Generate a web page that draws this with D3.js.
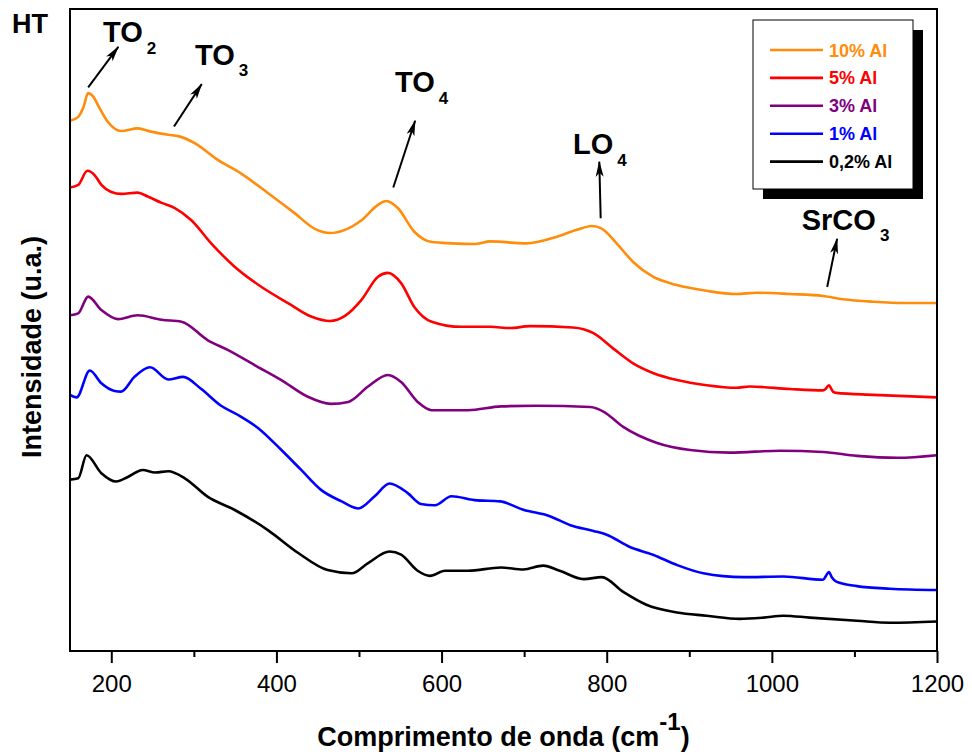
<!DOCTYPE html>
<html>
  <head>
    <meta charset="utf-8">
    <style>
      html, body {
        padding: 0;
        margin: 0;
        overflow: hidden;
        background: #ffffff;
      }
      svg {
        font-family: "Liberation Sans", Arial, sans-serif;
      }
      .spectrum {
        fill: none;
        stroke-width: 2.6;
        stroke-linejoin: round;
      }
      .tick text {
        font-size: 24px;
        fill: #000;
      }
      .tick line {
        stroke: #000;
        stroke-width: 2;
      }
      .note {
        font-weight: bold;
        font-size: 29px;
      }
    </style>
  </head>
  <body>
    <div id="chart"></div>
    <script src="https://cdn.jsdelivr.net/npm/d3@7"></script>
    <script>
      // wavenumber (cm-1) and intensity (a.u., 0-100 across the plot height)
      const wave10 = [150, 160, 166, 172, 178, 184, 196, 212, 232, 248, 269, 281, 301, 329, 357, 390, 422, 446, 465, 483, 503, 523, 533, 547, 567, 588, 612, 640, 659, 703, 739, 764, 782, 794, 812, 832, 856, 885, 921, 957, 982, 1022, 1062, 1086, 1123, 1160, 1200]
      const int10 = [82.6, 83.2, 84.6, 86.9, 86.4, 85.0, 82.4, 81.0, 81.4, 80.9, 80.4, 80.2, 79.1, 76.5, 74.4, 71.3, 68.2, 65.8, 65.1, 65.6, 67.1, 69.5, 70.1, 69.0, 65.3, 63.7, 63.5, 63.4, 63.8, 63.5, 64.5, 65.6, 66.2, 65.8, 63.5, 60.6, 58.3, 57.0, 56.1, 55.6, 55.8, 55.6, 55.3, 54.8, 54.4, 54.2, 54.2]

      const wave5 = [150, 160, 171, 180, 188, 200, 212, 232, 244, 261, 277, 297, 321, 349, 382, 414, 442, 465, 483, 503, 523, 535, 551, 567, 588, 624, 659, 683, 707, 759, 784, 808, 832, 856, 885, 921, 957, 973, 1022, 1062, 1065, 1069, 1074, 1078, 1123, 1200]
      const int5 = [72.2, 72.6, 74.8, 74.1, 72.6, 71.5, 71.2, 71.4, 70.8, 69.8, 69.0, 67.1, 63.5, 59.9, 56.7, 54.2, 52.1, 51.4, 52.2, 54.7, 58.3, 58.9, 57.3, 53.6, 51.3, 50.5, 50.5, 50.3, 50.6, 50.4, 49.5, 47.1, 44.8, 43.3, 42.2, 41.4, 41.0, 41.2, 40.8, 40.6, 40.8, 41.4, 40.4, 40.2, 39.9, 39.5]

      const wave3 = [150, 160, 172, 188, 208, 232, 261, 285, 317, 341, 374, 406, 438, 466, 487, 511, 535, 551, 571, 588, 632, 672, 715, 780, 796, 820, 861, 901, 949, 1010, 1062, 1103, 1152, 1200]
      const int3 = [52.3, 52.6, 55.2, 53.1, 51.7, 52.3, 51.6, 51.3, 48.4, 46.9, 44.5, 42.2, 39.6, 38.5, 38.8, 41.2, 43.0, 41.9, 38.8, 37.5, 37.5, 38.1, 38.2, 38.0, 37.3, 34.9, 32.4, 31.3, 30.9, 31.2, 31.0, 30.4, 30.1, 30.5]

      const wave1 = [150, 158, 174, 188, 204, 212, 228, 247, 269, 287, 309, 333, 353, 378, 406, 430, 454, 479, 499, 519, 537, 559, 575, 592, 612, 640, 671, 699, 731, 756, 784, 800, 828, 856, 885, 917, 965, 1014, 1062, 1066, 1069, 1073, 1078, 1103, 1143, 1200]
      const int1 = [39.9, 39.5, 43.7, 41.7, 40.5, 40.4, 42.7, 44.2, 42.3, 42.7, 40.8, 38.2, 36.8, 34.7, 31.3, 28.2, 25.1, 23.3, 22.2, 24.1, 26.1, 24.6, 22.9, 22.7, 24.1, 23.5, 23.3, 22.0, 21.0, 19.6, 18.7, 18.1, 16.2, 15.0, 13.4, 12.1, 11.5, 11.6, 11.1, 11.8, 12.3, 11.4, 10.8, 10.1, 9.7, 9.5]

      const wave02 = [150, 160, 170, 188, 206, 220, 238, 253, 269, 289, 317, 349, 390, 426, 462, 491, 511, 537, 551, 571, 586, 604, 632, 672, 699, 723, 743, 772, 794, 820, 848, 885, 921, 961, 990, 1014, 1046, 1103, 1143, 1200]
      const int02 = [26.7, 26.9, 30.5, 27.7, 26.4, 27.1, 28.2, 27.8, 28.0, 26.9, 24.0, 22.0, 18.8, 15.3, 12.6, 12.1, 13.7, 15.5, 15.0, 12.5, 11.7, 12.5, 12.5, 13.0, 12.7, 13.3, 12.5, 11.2, 11.5, 9.2, 7.2, 6.0, 5.5, 5.0, 5.2, 5.5, 5.2, 4.7, 4.4, 4.6]

      const seriesNames = ['10% Al', '5% Al', '3% Al', '1% Al', '0,2% Al']
      const seriesColors = ['#ff8c0a', '#ff0000', '#800080', '#0000ff', '#000000']
      const seriesWaves = [wave10, wave5, wave3, wave1, wave02]
      const seriesInts = [int10, int5, int3, int1, int02]

      const xTicks = [200, 400, 600, 800, 1000, 1200]
      const xMinorTicks = [300, 500, 700, 900, 1100]

      // band labels: text anchor (wave, intensity), arrow tail and head
      const bandNames = ['TO', 'TO', 'TO', 'LO', 'SrCO']
      const bandSubs = ['2', '3', '4', '4', '3']
      const bandTextAt = [[190, 94.8], [301.4, 91.3], [543.6, 87.0], [759.2, 77.4], [1036.2, 65.6]]
      const bandArrowFrom = [[172, 87.8], [276, 81.7], [541.5, 72.2], [792.7, 67.4], [1067, 56.7]]
      const bandArrowTo = [[208.5, 94.1], [309.5, 88.3], [568, 82.6], [791, 76.2], [1079, 64.2]]

      const width = 972
      const height = 756
      const margin = { top: 9, right: 35, bottom: 105, left: 70 }
      const plotW = width - margin.left - margin.right
      const plotH = height - margin.top - margin.bottom

      const svg = d3.select('#chart')
        .append('svg')
        .attr('width', width)
        .attr('height', height)

      const x = d3.scaleLinear().domain([150, 1200]).range([margin.left, margin.left + plotW])
      const y = d3.scaleLinear().domain([0, 100]).range([margin.top + plotH, margin.top])

      svg.append('defs').append('marker')
        .attr('id', 'head')
        .attr('viewBox', '0 0 16 10')
        .attr('refX', 15)
        .attr('refY', 5)
        .attr('markerWidth', 16)
        .attr('markerHeight', 10)
        .attr('markerUnits', 'userSpaceOnUse')
        .attr('orient', 'auto')
        .append('path')
        .attr('d', 'M0,1 L16,5 L0,9 L4,5 Z')
        .attr('fill', '#000')

      // spectra
      const line = d3.line()
        .x(d => x(d[0]))
        .y(d => y(d[1]))
        .curve(d3.curveMonotoneX)

      seriesNames.forEach((name, i) => {
        const pts = seriesWaves[i].map((w, j) => [w, seriesInts[i][j]])
        svg.append('path')
          .datum(pts)
          .attr('class', 'spectrum')
          .attr('stroke', seriesColors[i])
          .attr('d', line)
      })

      // x axis
      const xAxis = svg.append('g')
        .attr('transform', 'translate(0,' + (margin.top + plotH) + ')')
        .call(d3.axisBottom(x).tickValues(xTicks).tickSize(12).tickSizeOuter(0).tickPadding(12).tickFormat(d3.format('d')))
      xAxis.select('.domain').remove()

      const xMinor = svg.append('g')
        .attr('transform', 'translate(0,' + (margin.top + plotH) + ')')
        .call(d3.axisBottom(x).tickValues(xMinorTicks).tickSize(6).tickSizeOuter(0).tickFormat(''))
      xMinor.select('.domain').remove()

      // frame
      svg.append('rect')
        .attr('x', margin.left)
        .attr('y', margin.top)
        .attr('width', plotW)
        .attr('height', plotH)
        .attr('fill', 'none')
        .attr('stroke', '#000')
        .attr('stroke-width', 2)

      // band annotations
      bandNames.forEach((name, i) => {
        svg.append('line')
          .attr('x1', x(bandArrowFrom[i][0]))
          .attr('y1', y(bandArrowFrom[i][1]))
          .attr('x2', x(bandArrowTo[i][0]))
          .attr('y2', y(bandArrowTo[i][1]))
          .attr('stroke', '#000')
          .attr('stroke-width', 2)
          .attr('marker-end', 'url(#head)')

        const t = svg.append('text')
          .attr('class', 'note')
          .attr('x', x(bandTextAt[i][0]))
          .attr('y', y(bandTextAt[i][1]))
        t.append('tspan').text(name)
        t.append('tspan')
          .attr('dx', 4)
          .attr('dy', 11.5)
          .attr('font-size', 17)
          .text(bandSubs[i])
      })

      svg.append('text')
        .attr('x', 12)
        .attr('y', 33)
        .attr('font-weight', 'bold')
        .attr('font-size', 27)
        .text('HT')

      // axis titles
      const xTitle = svg.append('text')
        .attr('x', margin.left + plotW / 2)
        .attr('y', 746)
        .attr('text-anchor', 'middle')
        .attr('font-weight', 'bold')
        .attr('font-size', 27)
      xTitle.append('tspan').text('Comprimento de onda (cm')
      xTitle.append('tspan').attr('dy', -16).attr('font-size', 24).text('-1')
      xTitle.append('tspan').attr('dy', 16).text(')')

      svg.append('text')
        .attr('transform', 'translate(41,347) rotate(-90)')
        .attr('text-anchor', 'middle')
        .attr('font-weight', 'bold')
        .attr('font-size', 27)
        .text('Intensidade (u.a.)')

      // legend
      const legend = svg.append('g').attr('transform', 'translate(753,20)')
      legend.append('rect')
        .attr('x', 10).attr('y', 10)
        .attr('width', 160).attr('height', 169)
        .attr('fill', '#000')
      legend.append('rect')
        .attr('x', 0).attr('y', 0)
        .attr('width', 160).attr('height', 169)
        .attr('fill', '#fff')
        .attr('stroke', '#000')
        .attr('stroke-width', 1)

      seriesNames.forEach((name, i) => {
        const row = legend.append('g').attr('transform', 'translate(0,' + (30 + i * 27.9) + ')')
        row.append('line')
          .attr('x1', 17).attr('x2', 70)
          .attr('stroke', seriesColors[i])
          .attr('stroke-width', 2.6)
        row.append('text')
          .attr('x', 76)
          .attr('y', 6.5)
          .attr('font-weight', 'bold')
          .attr('font-size', 18)
          .attr('fill', seriesColors[i])
          .text(name)
      })
    </script>
  </body>
</html>
